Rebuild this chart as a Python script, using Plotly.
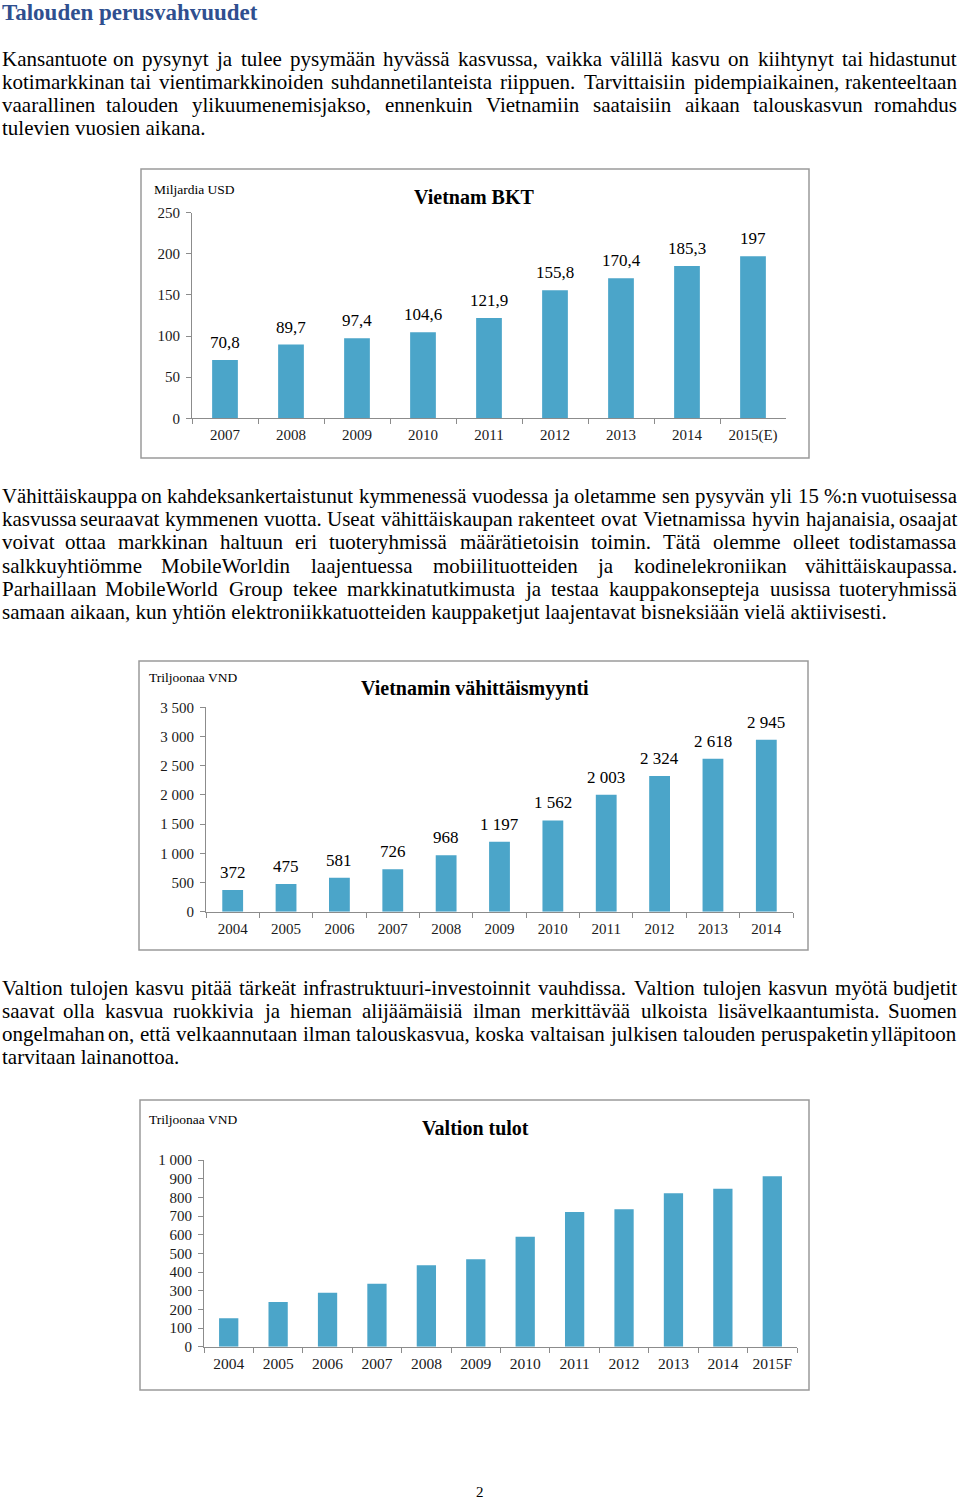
import plotly.graph_objects as go

W, H = 960, 1500

# ---------------- data ----------------
gdp_years = ["2007", "2008", "2009", "2010", "2011", "2012", "2013", "2014", "2015(E)"]
gdp_values = [70.8, 89.7, 97.4, 104.6, 121.9, 155.8, 170.4, 185.3, 197]
gdp_tickvals = [0, 50, 100, 150, 200, 250]

retail_years = ["2004", "2005", "2006", "2007", "2008", "2009", "2010", "2011", "2012", "2013", "2014"]
retail_values = [372, 475, 581, 726, 968, 1197, 1562, 2003, 2324, 2618, 2945]
retail_tickvals = [0, 500, 1000, 1500, 2000, 2500, 3000, 3500]

revenue_years = ["2004", "2005", "2006", "2007", "2008", "2009", "2010", "2011", "2012", "2013", "2014", "2015F"]
revenue_values = [152, 239, 289, 337, 436, 468, 589, 721, 736, 822, 846, 913]
revenue_tickvals = [0, 100, 200, 300, 400, 500, 600, 700, 800, 900, 1000]

page_title = "Talouden perusvahvuudet"
para1 = [
    "Kansantuote on pysynyt ja tulee pysymään hyvässä kasvussa, vaikka välillä kasvu on kiihtynyt tai hidastunut",
    "kotimarkkinan tai vientimarkkinoiden suhdannetilanteista riippuen. Tarvittaisiin pidempiaikainen, rakenteeltaan",
    "vaarallinen talouden ylikuumenemisjakso, ennenkuin Vietnamiin saataisiin aikaan talouskasvun romahdus",
    "tulevien vuosien aikana.",
]
para2 = [
    "Vähittäiskauppa on kahdeksankertaistunut kymmenessä vuodessa ja oletamme sen pysyvän yli 15 %:n vuotuisessa",
    "kasvussa seuraavat kymmenen vuotta. Useat vähittäiskaupan rakenteet ovat Vietnamissa hyvin hajanaisia, osaajat",
    "voivat ottaa markkinan haltuun eri tuoteryhmissä määrätietoisin toimin. Tätä olemme olleet todistamassa",
    "salkkuyhtiömme MobileWorldin laajentuessa mobiilituotteiden ja kodinelekroniikan vähittäiskaupassa.",
    "Parhaillaan MobileWorld Group tekee markkinatutkimusta ja testaa kauppakonsepteja uusissa tuoteryhmissä",
    "samaan aikaan, kun yhtiön elektroniikkatuotteiden kauppaketjut laajentavat bisneksiään vielä aktiivisesti.",
]
para3 = [
    "Valtion tulojen kasvu pitää tärkeät infrastruktuuri-investoinnit vauhdissa. Valtion tulojen kasvun myötä budjetit",
    "saavat olla kasvua ruokkivia ja hieman alijäämäisiä ilman merkittävää ulkoista lisävelkaantumista. Suomen",
    "ongelmahan on, että velkaannutaan ilman talouskasvua, koska valtaisan julkisen talouden peruspaketin ylläpitoon",
    "tarvitaan lainanottoa.",
]

# ---------------- styles ----------------
SERIF = "Liberation Serif"
BAR = "#4BA5C9"
AXIS = "#8c8c8c"
FRAME = "#9a9a9a"
TXT = "#1a1a1a"
BODY_SIZE = 21


def fi_num(v):
    if isinstance(v, float):
        return f"{v:.1f}".replace(".", ",")
    return f"{v:,}".replace(",", " ")


TIMES = {
    'a': 444, 'b': 500, 'c': 444, 'd': 500, 'e': 444, 'f': 333, 'g': 500, 'h': 500, 'i': 278,
    'j': 278, 'k': 500, 'l': 278, 'm': 778, 'n': 500, 'o': 500, 'p': 500, 'q': 500, 'r': 333,
    's': 389, 't': 278, 'u': 500, 'v': 500, 'w': 722, 'x': 500, 'y': 500, 'z': 444,
    'ä': 444, 'ö': 500, 'å': 444,
    'A': 722, 'B': 667, 'C': 667, 'D': 722, 'E': 611, 'F': 556, 'G': 722, 'H': 722, 'I': 333,
    'J': 389, 'K': 722, 'L': 611, 'M': 889, 'N': 722, 'O': 722, 'P': 556, 'Q': 722, 'R': 667,
    'S': 556, 'T': 611, 'U': 722, 'V': 722, 'W': 944, 'X': 722, 'Y': 722, 'Z': 611,
    'Ä': 722, 'Ö': 722,
    ' ': 250, '.': 250, ',': 250, ':': 278, ';': 278, '-': 333, '%': 833, '(': 333, ')': 333,
}


def tw(s, size):
    return sum(TIMES.get(c, 500) for c in s) / 1000.0 * size


def px(x):
    return x / W


def py(y):
    return 1 - y / H


annotations = []
shapes = []


def add_line(text, ycen, justify, size=BODY_SIZE, left=0.0, right=959.0):
    words = text.split(" ")
    widths = [tw(w, size) for w in words]
    natural = sum(widths) + tw(" ", size) * (len(words) - 1)
    avail = right - left
    if natural > avail - 4:
        size = size * (avail - 4) / natural
        widths = [tw(w, size) for w in words]
    if not justify or len(words) == 1:
        annotations.append(dict(text=text, x=px(left), y=py(ycen), xref="paper", yref="paper",
                                xanchor="left", yanchor="middle", showarrow=False,
                                font=dict(family=SERIF, size=size, color="#000")))
        return
    gap = (avail - sum(widths)) / (len(words) - 1)
    cursor = left
    for i, (w, wd) in enumerate(zip(words, widths)):
        if i == 0:
            x, anc = cursor, "left"
        elif i == len(words) - 1:
            x, anc = right, "right"
        else:
            x, anc = cursor + wd / 2, "center"
        annotations.append(dict(text=w, x=px(x), y=py(ycen), xref="paper", yref="paper",
                                xanchor=anc, yanchor="middle", showarrow=False,
                                font=dict(family=SERIF, size=size, color="#000")))
        cursor += wd + gap


def add_para(lines, y0, step):
    for i, line in enumerate(lines):
        add_line(line, y0 + i * step, justify=(i < len(lines) - 1))


# page title
annotations.append(dict(text="<b>" + page_title + "</b>", x=px(0), y=py(12), xref="paper", yref="paper",
                        xanchor="left", yanchor="middle", showarrow=False,
                        font=dict(family=SERIF, size=23, color="#2F4F8F")))

add_para(para1, 59, 23)
add_para(para2, 496, 23.2)
add_para(para3, 988, 23)

annotations.append(dict(text="2", x=px(480), y=py(1492), xref="paper", yref="paper",
                        xanchor="center", yanchor="middle", showarrow=False,
                        font=dict(family=SERIF, size=15, color="#000")))

# ---------------- charts ----------------
charts = [
    dict(cats=gdp_years, vals=gdp_values, tickvals=gdp_tickvals, labels=True,
         x0=192, x1=786, yb=418.3, yt=212.7, frame=(141, 169, 809, 458),
         title="Vietnam BKT", tx=474, ty=197, unit="Miljardia USD", ux=152, uy=189,
         ytick=15, xtick=15),
    dict(cats=retail_years, vals=retail_values, tickvals=retail_tickvals, labels=True,
         x0=206, x1=793, yb=911.7, yt=707.3, frame=(139, 661, 808, 950),
         title="Vietnamin vähittäismyynti", tx=475, ty=688, unit="Triljoonaa VND", ux=147, uy=677,
         ytick=15, xtick=15),
    dict(cats=revenue_years, vals=revenue_values, tickvals=revenue_tickvals, labels=False,
         x0=204, x1=797, yb=1346.7, yt=1160, frame=(140, 1100, 809, 1390),
         title="Valtion tulot", tx=475, ty=1128, unit="Triljoonaa VND", ux=147, uy=1119,
         ytick=15, xtick=15.5),
]

fig = go.Figure()
layout_axes = {}
for k, c in enumerate(charts):
    sfx = "" if k == 0 else str(k + 1)
    xa, ya = "x" + sfx, "y" + sfx
    fig.add_trace(go.Bar(x=c["cats"], y=c["vals"], width=0.39, marker=dict(color=BAR, line=dict(width=0)),
                         xaxis=xa, yaxis=ya, hoverinfo="skip", showlegend=False))
    n = len(c["cats"])
    layout_axes["xaxis" + sfx] = dict(
        domain=[px(c["x0"]), px(c["x1"])], anchor=ya, type="category", range=[-0.5, n - 0.5],
        showline=True, linecolor=AXIS, linewidth=1, ticks="outside", tickson="boundaries",
        ticklen=5, tickcolor=AXIS, tickwidth=1, showgrid=False, zeroline=False,
        ticklabelstandoff=3,
        tickfont=dict(family=SERIF, size=c["xtick"], color=TXT), fixedrange=True)
    layout_axes["yaxis" + sfx] = dict(
        domain=[py(c["yb"]), py(c["yt"])], anchor=xa, range=[0, max(c["tickvals"])],
        tickvals=c["tickvals"], ticktext=[fi_num(v) for v in c["tickvals"]],
        showline=True, linecolor=AXIS, linewidth=1, ticks="outside", ticklen=5, tickcolor=AXIS,
        tickwidth=1, showgrid=False, zeroline=False, ticklabelstandoff=3,
        tickfont=dict(family=SERIF, size=c["ytick"], color=TXT), fixedrange=True)
    if c["labels"]:
        for i, v in enumerate(c["vals"]):
            annotations.append(dict(text=fi_num(v), x=i, y=v, xref=xa, yref=ya,
                                    xanchor="center", yanchor="bottom", yshift=6, showarrow=False,
                                    font=dict(family=SERIF, size=17, color="#000")))
    fx0, fy0, fx1, fy1 = c["frame"]
    shapes.append(dict(type="rect", xref="paper", yref="paper", x0=px(fx0), x1=px(fx1),
                       y0=py(fy1), y1=py(fy0), line=dict(color=FRAME, width=1.5), layer="below"))
    annotations.append(dict(text="<b>" + c["title"] + "</b>", x=px(c["tx"]), y=py(c["ty"]),
                            xref="paper", yref="paper", xanchor="center", yanchor="middle",
                            showarrow=False, font=dict(family=SERIF, size=20, color="#000")))
    annotations.append(dict(text=c["unit"], x=px(c["ux"]), y=py(c["uy"]), xref="paper", yref="paper",
                            xanchor="left", yanchor="middle", showarrow=False,
                            font=dict(family=SERIF, size=13.5, color="#000")))

fig.update_layout(
    width=W, height=H, margin=dict(l=0, r=0, t=0, b=0, pad=0, autoexpand=False),
    paper_bgcolor="white", plot_bgcolor="white", showlegend=False,
    annotations=annotations, shapes=shapes, bargap=0.6, **layout_axes)

fig.write_html("out.html")
